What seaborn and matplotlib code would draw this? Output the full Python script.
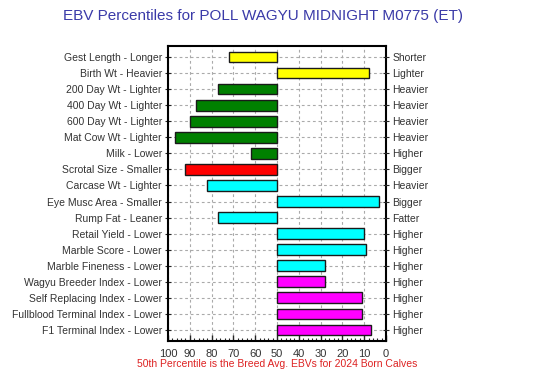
import pandas as pd
import matplotlib.pyplot as plt
import seaborn as sns
from matplotlib.ticker import MultipleLocator

traits = ["Gest Length - Longer", "Birth Wt - Heavier", "200 Day Wt - Lighter",
          "400 Day Wt - Lighter", "600 Day Wt - Lighter", "Mat Cow Wt - Lighter",
          "Milk - Lower", "Scrotal Size - Smaller", "Carcase Wt - Lighter",
          "Eye Musc Area - Smaller", "Rump Fat - Leaner", "Retail Yield - Lower",
          "Marble Score - Lower", "Marble Fineness - Lower", "Wagyu Breeder Index - Lower",
          "Self Replacing Index - Lower", "Fullblood Terminal Index - Lower",
          "F1 Terminal Index - Lower"]
right_labels = ["Shorter", "Lighter", "Heavier", "Heavier", "Heavier", "Heavier",
                "Higher", "Bigger", "Heavier", "Bigger", "Fatter", "Higher",
                "Higher", "Higher", "Higher", "Higher", "Higher", "Higher"]
percentiles = [72, 8, 77, 87, 90, 97, 62, 92, 82, 3, 77, 10, 9, 28, 28, 11, 11, 7]
bar_colors = ["#ffff00", "#ffff00", "#008000", "#008000", "#008000", "#008000",
              "#008000", "#ff0000", "#00ffff", "#00ffff", "#00ffff", "#00ffff",
              "#00ffff", "#00ffff", "#ff00ff", "#ff00ff", "#ff00ff", "#ff00ff"]
breed_avg = 50

df = pd.DataFrame({"trait": traits, "pct": percentiles})
df["span"] = df["pct"] - breed_avg

sns.set_style("white")
plt.rcParams["font.family"] = ["Liberation Sans", "DejaVu Sans"]

fig = plt.figure(figsize=(5.51, 3.70), dpi=100)
ax = fig.add_axes([0.305, 0.0784, 0.3955, 0.7973])

sns.barplot(data=df, x="span", y="trait", hue="trait", palette=bar_colors,
            saturation=1, orient="h", left=breed_avg, width=0.65,
            edgecolor="#1a1a1a", linewidth=1, legend=False, ax=ax, zorder=3)

ax.set_xlim(100, 0)
ax.set_ylim(len(traits) - 0.3, -0.7)
ax.xaxis.set_major_locator(MultipleLocator(10))
ax.xaxis.set_minor_locator(MultipleLocator(2))
ax.grid(True, which="major", linestyle=(0, (2.5, 2.5)), color="#aaaaaa", linewidth=0.8, zorder=0)
ax.set_axisbelow(True)
ax.set_xlabel("")
ax.set_ylabel("")
for s in ax.spines.values():
    s.set_color("black")
    s.set_linewidth(1.5)

ax.tick_params(axis="x", which="major", direction="in", length=4, width=1,
               labelsize=8, labelcolor="#333333", pad=6, bottom=True)
ax.tick_params(axis="x", which="minor", direction="in", length=2, width=0.8, bottom=True)
ax.tick_params(axis="y", direction="inout", length=5, width=0.8, left=True,
               labelsize=7.5, labelcolor="#333333", pad=2)

ax2 = ax.twinx()
ax2.set_ylim(ax.get_ylim())
ax2.set_yticks(range(len(right_labels)))
ax2.set_yticklabels(right_labels)
ax2.tick_params(axis="y", direction="inout", length=5, width=0.8,
                labelsize=7.5, labelcolor="#333333", pad=2)
for s in ax2.spines.values():
    s.set_visible(False)

fig.text(0.478, 0.957, "EBV Percentiles for POLL WAGYU MIDNIGHT M0775 (ET)",
         ha="center", va="center", fontsize=11, color="#3a3aa8")
fig.text(0.503, 0.004, "50th Percentile is the Breed Avg. EBVs for 2024 Born Calves",
         ha="center", va="bottom", fontsize=7.5, color="#dd2222")

fig.savefig("out.png", dpi=100)
